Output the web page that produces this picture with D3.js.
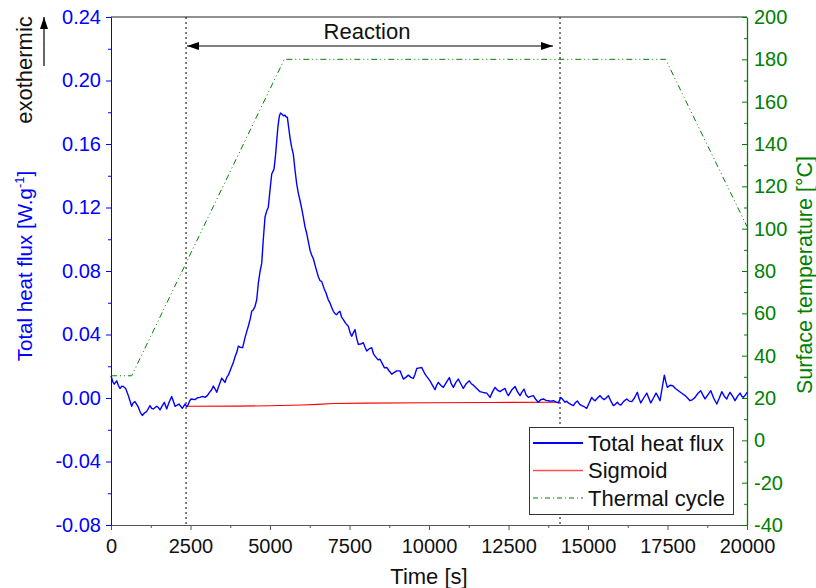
<!DOCTYPE html>
<html>
<head>
<meta charset="utf-8">
<script src="https://cdn.jsdelivr.net/npm/d3@7/dist/d3.min.js"></script>
<style>
  html, body { margin: 0; padding: 0; background: #fff; }
  svg { display: block; font-family: "Liberation Sans", Arial, sans-serif; }
</style>
</head>
<body>
<svg id="chart" width="816" height="588"></svg>
<script>
// ---------------- DATA ----------------
const xTicks = [0, 2500, 5000, 7500, 10000, 12500, 15000, 17500, 20000];
const leftTicks = [-0.08, -0.04, 0.00, 0.04, 0.08, 0.12, 0.16, 0.20, 0.24];
const rightTicks = [-40, -20, 0, 20, 40, 60, 80, 100, 120, 140, 160, 180, 200];
const legendLabels = ["Total heat flux", "Sigmoid", "Thermal cycle"];
const reactionBounds = [2360, 14120];

// Total heat flux [W/g] (time s, value)
const heatTime = [0,60,104,179,230,283,340,387,462,545,600,651,700,755,860,920,985,1050,1122,1226,1280,1331,1437,1490,1541,1610,1677,1751,1820,1908,1960,2013,2080,2139,2243,2327,2380,2412,2470,2516,2642,2720,2799,2880,2956,3030,3082,3160,3218,3280,3323,3400,3481,3540,3585,3640,3690,3760,3847,3900,3953,4004,4060,4141,4214,4270,4318,4380,4425,4476,4529,4582,4633,4690,4739,4790,4843,4900,4947,5000,5054,5126,5170,5211,5250,5293,5330,5369,5420,5472,5510,5545,5590,5630,5680,5733,5790,5840,5890,5944,6000,6048,6100,6155,6210,6259,6310,6362,6440,6520,6570,6627,6700,6762,6830,6888,6940,6992,7050,7098,7150,7202,7250,7306,7380,7463,7520,7570,7620,7674,7720,7778,7850,7935,7990,8042,8120,8199,8250,8303,8400,8460,8514,8600,8671,8750,8828,8900,8985,9089,9150,9193,9270,9350,9430,9507,9560,9615,9700,9772,9875,9950,10033,10110,10190,10240,10294,10370,10451,10550,10640,10700,10766,10850,10922,11000,11079,11170,11268,11330,11394,11500,11605,11700,11816,11920,12000,12077,12150,12234,12300,12391,12450,12495,12600,12706,12780,12863,12930,12989,13050,13124,13200,13281,13360,13438,13520,13596,13680,13753,13830,13910,13990,14068,14143,14210,14278,14330,14382,14460,14539,14600,14665,14740,14804,14880,14961,15040,15118,15170,15222,15300,15379,15440,15505,15570,15640,15720,15797,15860,15923,15980,16030,16130,16219,16300,16376,16460,16552,16600,16659,16750,16848,16910,16974,17060,17140,17200,17266,17330,17401,17450,17496,17580,17666,17750,17842,17950,18053,18130,18210,18290,18367,18460,18546,18610,18681,18770,18861,18950,19050,19130,19207,19290,19364,19420,19467,19550,19625,19700,19782,19840,19887,19950,20000];
const heatFlux = [0.014,0.010,0.0087,0.0108,0.0080,0.006,0.0075,0.0073,0.006,0.0015,-0.002,-0.0052,-0.003,-0.0023,-0.0058,-0.009,-0.011,-0.0095,-0.0085,-0.0048,-0.0065,-0.0069,-0.0052,-0.006,-0.0075,-0.005,-0.0027,-0.0069,-0.003,0.001,-0.002,-0.0052,-0.0045,-0.0038,-0.0065,-0.0038,-0.0055,-0.0048,-0.002,-0.0006,-0.001,0.0002,0.0004,0.001,0.0004,0.0015,0.0031,0.005,0.0075,0.0055,0.0036,0.008,0.0125,0.011,0.0098,0.013,0.0144,0.018,0.0223,0.026,0.0286,0.0327,0.032,0.0317,0.038,0.042,0.0452,0.050,0.0546,0.0556,0.0577,0.0619,0.0723,0.080,0.0848,0.100,0.114,0.118,0.1202,0.131,0.1411,0.1442,0.152,0.1619,0.171,0.1775,0.1795,0.179,0.1778,0.1781,0.177,0.1769,0.170,0.1639,0.158,0.1536,0.143,0.1348,0.129,0.1244,0.119,0.1139,0.108,0.1036,0.098,0.0931,0.090,0.0879,0.082,0.0764,0.074,0.0733,0.069,0.0661,0.062,0.0598,0.057,0.0546,0.053,0.0525,0.054,0.0546,0.051,0.0494,0.047,0.0452,0.041,0.0389,0.041,0.0431,0.038,0.0338,0.034,0.0348,0.032,0.0296,0.031,0.0317,0.028,0.0264,0.024,0.0244,0.0223,0.019,0.0192,0.017,0.015,0.016,0.0171,0.0171,0.014,0.0119,0.013,0.0144,0.013,0.0123,0.015,0.0186,0.019,0.0192,0.015,0.013,0.0108,0.008,0.0052,0.008,0.0098,0.008,0.0067,0.010,0.0129,0.009,0.0067,0.010,0.0119,0.009,0.006,0.009,0.0108,0.009,0.0081,0.006,0.004,0.0035,0.0031,0.0004,0.004,0.0067,0.005,0.004,0.005,0.006,0.003,0.0015,0.005,0.0073,0.004,0.0015,0.004,0.0056,0.002,0.0004,0.001,0.0015,-0.001,-0.0027,-0.001,-0.0006,-0.0015,-0.0017,-0.002,-0.0017,-0.0025,-0.0031,0.0004,-0.001,-0.0027,-0.002,-0.0031,-0.004,-0.0048,-0.003,-0.0019,-0.004,-0.0048,-0.0055,-0.0065,-0.003,0.0004,-0.001,-0.0017,0.000,0.0015,0.000,-0.001,0.000,0.0015,-0.002,-0.0048,-0.004,-0.0027,-0.004,-0.0044,-0.002,-0.0006,-0.002,-0.0023,0.000,0.0036,0.000,-0.0031,0.000,0.0031,0.000,-0.0031,0.000,0.0031,0.001,-0.0017,0.006,0.0144,0.010,0.0067,0.008,0.0077,0.006,0.0046,0.003,0.0015,0.000,-0.0017,-0.001,0.0004,0.003,0.0046,0.002,-0.0006,0.002,0.0046,0.000,-0.0038,0.000,0.004,0.001,-0.0006,0.002,0.0036,0.001,-0.0017,0.001,0.0031,0.001,0.0004,0.002,0.0036];

// Sigmoid baseline
const sigTime = [2360, 4000, 5000, 6000, 6500, 7000, 8000, 10000, 12000, 14120];
const sigValue = [-0.0052, -0.0051, -0.0049, -0.0044, -0.0040, -0.0035, -0.0032, -0.0030, -0.0028, -0.0027];

// Thermal cycle [°C]
const tempTime = [0, 650, 5450, 17440, 20000];
const tempValue = [30.5, 30.5, 180, 180, 101];

// ---------------- LAYOUT ----------------
const L = 111, R = 747, T = 17, B = 525;
const BLUE = "#0000ff", GREEN = "#008000";
const FONT = "Liberation Sans, Arial, sans-serif";
const svg = d3.select("#chart");

const x = d3.scaleLinear().domain([0, 20000]).range([L, R]);
const yL = d3.scaleLinear().domain([-0.08, 0.24]).range([B, T]);
const yR = d3.scaleLinear().domain([-40, 200]).range([B, T]);

const fmtL = d => d3.format(".2f")(d).replace("−", "-");
const fmtR = d => String(d);

function minor(ticks) {
  const out = [];
  for (let i = 0; i < ticks.length - 1; i++) out.push((ticks[i] + ticks[i + 1]) / 2);
  return out;
}

// Bottom axis
const gx = svg.append("g").attr("transform", `translate(0,${B})`)
  .call(d3.axisBottom(x).tickValues(xTicks).tickFormat(d => String(d)).tickSize(5).tickPadding(9));
gx.select(".domain").attr("stroke", "#555");
gx.selectAll(".tick line").attr("stroke", "#555");
gx.selectAll("text").attr("font-size", 20).attr("fill", "#111").attr("font-family", FONT);
svg.append("g").attr("transform", `translate(0,${B})`)
  .call(d3.axisBottom(x).tickValues(minor(xTicks)).tickFormat("").tickSize(3))
  .call(g => { g.select(".domain").remove(); g.selectAll("line").attr("stroke", "#555"); });

// Top frame
svg.append("line").attr("x1", L).attr("x2", R).attr("y1", T).attr("y2", T).attr("stroke", "#222");

// Left axis
const gl = svg.append("g").attr("transform", `translate(${L},0)`)
  .call(d3.axisLeft(yL).tickValues(leftTicks).tickFormat(fmtL).tickSize(5).tickPadding(5));
gl.select(".domain").attr("stroke", BLUE);
gl.selectAll(".tick line").attr("stroke", BLUE);
gl.selectAll("text").attr("font-size", 20).attr("fill", BLUE).attr("font-family", FONT);
svg.append("g").attr("transform", `translate(${L},0)`)
  .call(d3.axisLeft(yL).tickValues(minor(leftTicks)).tickFormat("").tickSize(3))
  .call(g => { g.select(".domain").remove(); g.selectAll("line").attr("stroke", BLUE); });

// Right axis (ticks inward)
const gr = svg.append("g").attr("transform", `translate(${R},0)`)
  .call(d3.axisRight(yR).tickValues(rightTicks).tickFormat(fmtR).tickSizeInner(-5).tickSizeOuter(0).tickPadding(7));
gr.select(".domain").attr("stroke", GREEN).attr("stroke-width", 1.3);
gr.selectAll(".tick line").attr("stroke", GREEN);
gr.selectAll("text").attr("font-size", 20).attr("fill", GREEN).attr("font-family", FONT);
svg.append("g").attr("transform", `translate(${R},0)`)
  .call(d3.axisRight(yR).tickValues(minor(rightTicks)).tickFormat("").tickSizeInner(-3).tickSizeOuter(0))
  .call(g => { g.select(".domain").remove(); g.selectAll("line").attr("stroke", GREEN); });

// Reaction boundaries
reactionBounds.forEach(t => {
  svg.append("line").attr("x1", x(t)).attr("x2", x(t)).attr("y1", T).attr("y2", B)
    .attr("stroke", "#000").attr("stroke-width", 1).attr("stroke-dasharray", "2,3");
});

// Reaction arrow
const defs = svg.append("defs");
defs.append("marker").attr("id", "ah").attr("viewBox", "0 0 12 8").attr("refX", 12).attr("refY", 4)
  .attr("markerWidth", 12).attr("markerHeight", 8).attr("markerUnits", "userSpaceOnUse").attr("orient", "auto-start-reverse")
  .append("path").attr("d", "M0,0 L12,4 L0,8 Z").attr("fill", "#000");
const ay = 46;
svg.append("line").attr("x1", x(reactionBounds[0]) + 1).attr("x2", x(reactionBounds[1]) - 7)
  .attr("y1", ay).attr("y2", ay).attr("stroke", "#000").attr("stroke-width", 1.2)
  .attr("marker-start", "url(#ah)").attr("marker-end", "url(#ah)");
svg.append("text").attr("x", 367).attr("y", 39).attr("text-anchor", "middle")
  .attr("font-size", 22).attr("fill", "#111").text("Reaction");

// Lines
const lineL = d3.line().x(d => x(d[0])).y(d => yL(d[1]));
const lineR = d3.line().x(d => x(d[0])).y(d => yR(d[1]));

const tempData = tempTime.map((t, i) => [t, tempValue[i]]);
svg.append("path").datum(tempData).attr("d", lineR).attr("fill", "none")
  .attr("stroke", GREEN).attr("stroke-width", 1).attr("stroke-dasharray", "6,3,1,3,1,3");

const sigData = sigTime.map((t, i) => [t, sigValue[i]]);
svg.append("path").datum(sigData).attr("d", lineL).attr("fill", "none")
  .attr("stroke", "#ff0000").attr("stroke-width", 1.1);

const heatData = heatTime.map((t, i) => [t, heatFlux[i]]);
svg.append("path").datum(heatData).attr("d", lineL).attr("fill", "none")
  .attr("stroke", BLUE).attr("stroke-width", 1.4).attr("stroke-linejoin", "round");

// Axis titles
svg.append("text").attr("x", 429).attr("y", 584).attr("text-anchor", "middle")
  .attr("font-size", 22).attr("fill", "#111").text("Time [s]");

const lt = svg.append("text").attr("transform", "translate(32,266) rotate(-90)").attr("text-anchor", "middle")
  .attr("font-size", 20.5).attr("fill", BLUE);
lt.append("tspan").text("Total heat flux [W.g");
lt.append("tspan").attr("font-size", 13).attr("dy", -8).text("-1");
lt.append("tspan").attr("dy", 8).text("]");

svg.append("text").attr("transform", "translate(812,275) rotate(-90)").attr("text-anchor", "middle")
  .attr("font-size", 21.5).attr("fill", GREEN).text("Surface temperature [°C]");

// exothermic
svg.append("text").attr("transform", "translate(32,70) rotate(-90)").attr("text-anchor", "middle")
  .attr("font-size", 22).attr("fill", "#111").text("exothermic");
defs.append("marker").attr("id", "ah2").attr("viewBox", "0 0 12 8").attr("refX", 12).attr("refY", 4)
  .attr("markerWidth", 12).attr("markerHeight", 8).attr("markerUnits", "userSpaceOnUse").attr("orient", "auto")
  .append("path").attr("d", "M0,0 L12,4 L0,8 Z").attr("fill", "#000");
svg.append("line").attr("x1", 44).attr("x2", 44).attr("y1", 66).attr("y2", 17)
  .attr("stroke", "#000").attr("stroke-width", 1.2).attr("marker-end", "url(#ah2)");

// Legend
const lg = svg.append("g");
lg.append("rect").attr("x", 529.5).attr("y", 427.5).attr("width", 204).attr("height", 87)
  .attr("fill", "#fff").attr("stroke", "#333").attr("stroke-width", 1);
const legStyles = [
  { stroke: BLUE, width: 2.2, dash: null },
  { stroke: "#ff5050", width: 1.3, dash: null },
  { stroke: GREEN, width: 1, dash: "5,3,1,3" }
];
legendLabels.forEach((lab, i) => {
  const yy = 443 + i * 27.5;
  const s = legStyles[i];
  const ln = lg.append("line").attr("x1", 533).attr("x2", 583).attr("y1", yy).attr("y2", yy)
    .attr("stroke", s.stroke).attr("stroke-width", s.width);
  if (s.dash) ln.attr("stroke-dasharray", s.dash);
  lg.append("text").attr("x", 588).attr("y", yy).attr("dy", "0.35em")
    .attr("font-size", 22).attr("fill", "#111").text(lab);
});
</script>
</body>
</html>
